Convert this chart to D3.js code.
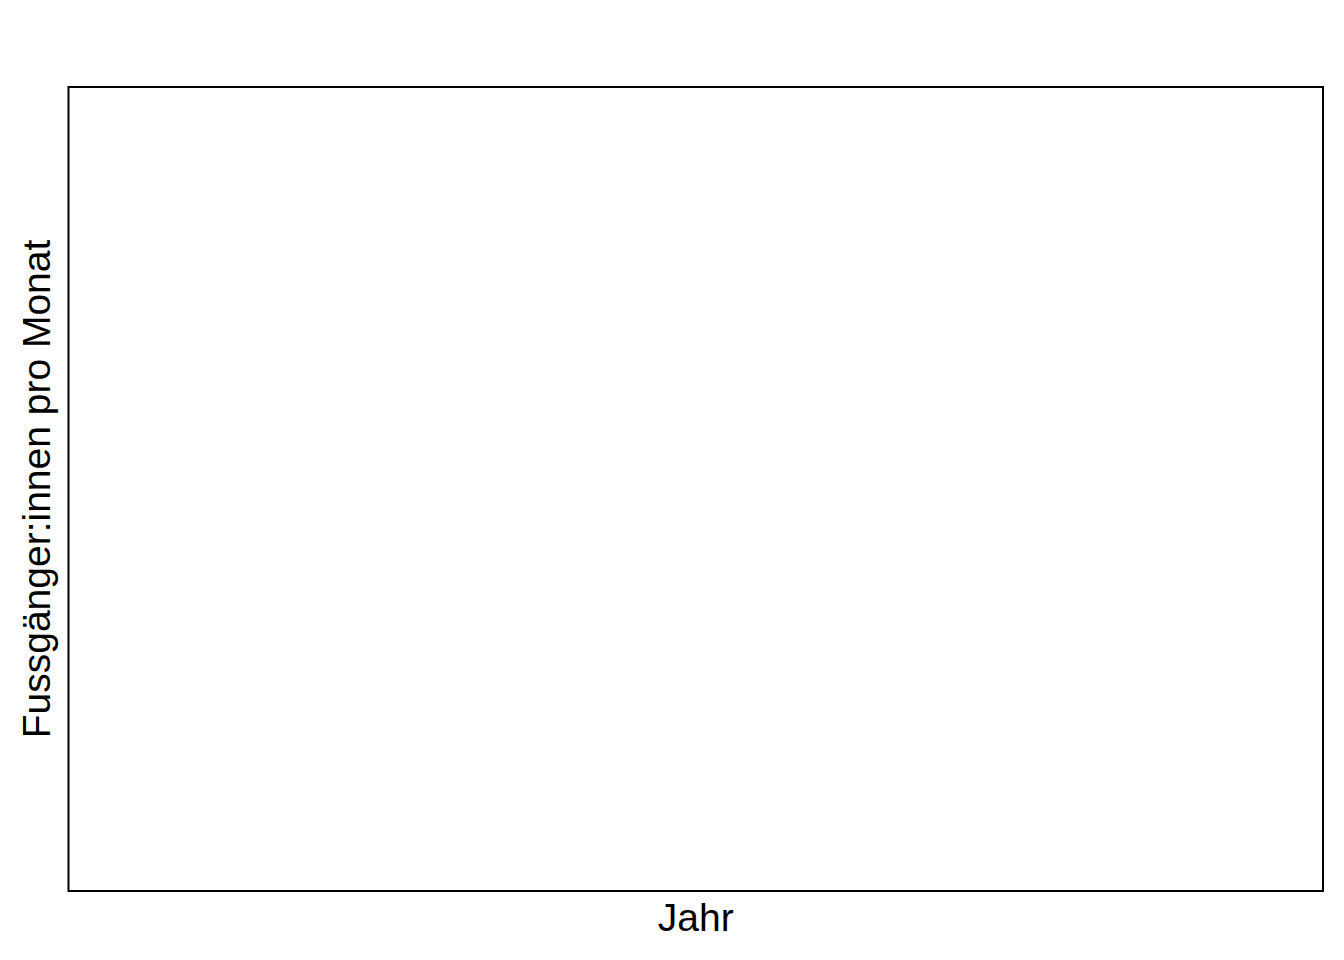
<!DOCTYPE html>
<html>
<head>
<meta charset="utf-8">
<script src="https://cdn.jsdelivr.net/npm/d3@7"></script>
<style>
  html, body { margin: 0; padding: 0; background: #fff; }
  svg { display: block; }
</style>
</head>
<body>
<script>
// Data (the reference chart is an empty panel: no data points shown)
const years = [];
const pedestriansPerMonth = [];
const xTickLabels = [];
const yTickLabels = [];
const xTitle = "Jahr";
const yTitle = "Fussgänger:innen pro Monat";

const W = 1344, H = 960;
const margin = { left: 68.5, top: 87, right: 1344 - 1323, bottom: 960 - 891 };
const innerW = W - margin.left - margin.right;
const innerH = H - margin.top - margin.bottom;

const svg = d3.select("body").append("svg")
  .attr("width", W).attr("height", H);

svg.append("rect").attr("width", W).attr("height", H).attr("fill", "#fff");

const x = d3.scaleLinear().domain(years.length ? d3.extent(years) : [0, 1]).range([0, innerW]);
const y = d3.scaleLinear().domain(pedestriansPerMonth.length ? [0, d3.max(pedestriansPerMonth)] : [0, 1]).range([innerH, 0]);

const g = svg.append("g").attr("transform", `translate(${margin.left},${margin.top})`);

// marks (none in reference)
g.selectAll("circle.pt").data(years.map((yr, i) => [yr, pedestriansPerMonth[i]]))
  .join("circle").attr("class", "pt")
  .attr("cx", d => x(d[0])).attr("cy", d => y(d[1])).attr("r", 3).attr("fill", "#000");

// panel border
g.append("rect")
  .attr("x", 0).attr("y", 0)
  .attr("width", innerW).attr("height", innerH)
  .attr("fill", "none").attr("stroke", "#000").attr("stroke-width", 2);

// axis titles
svg.append("text")
  .attr("x", margin.left + innerW / 2)
  .attr("y", 931)
  .attr("text-anchor", "middle")
  .attr("font-family", "Liberation Sans, Arial, sans-serif")
  .attr("font-size", 39)
  .attr("fill", "#000")
  .text(xTitle);

svg.append("text")
  .attr("transform", `translate(50,${margin.top + innerH / 2}) rotate(-90)`)
  .attr("text-anchor", "middle")
  .attr("font-family", "Liberation Sans, Arial, sans-serif")
  .attr("font-size", 39)
  .attr("fill", "#000")
  .text(yTitle);
</script>
</body>
</html>
